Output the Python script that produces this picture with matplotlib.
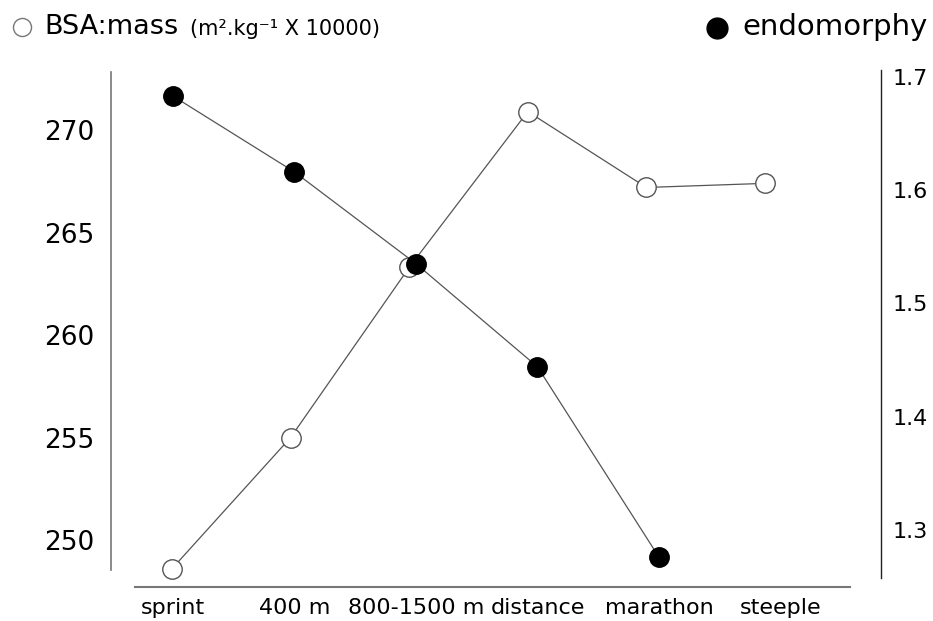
import matplotlib
matplotlib.use("Agg")
import matplotlib.pyplot as plt
from matplotlib.lines import Line2D

categories = ["sprint", "400 m", "800-1500 m", "distance", "marathon", "steeple"]
bsa_mass = [248.6, 255.0, 263.3, 270.9, 267.2, 267.4]
endomorphy = [1.683, 1.616, 1.535, 1.444, 1.276]
left_ticks = [250, 255, 260, 265, 270]
right_ticks = [1.3, 1.4, 1.5, 1.6, 1.7]

W, H = 933, 621
fig = plt.figure(figsize=(W / 100, H / 100), dpi=100)
plt.rcParams['font.family'] = ['DejaVu Sans']

# axes box in pixels: x 111..881, y 70..587 (from top)
rect = [111 / W, 1 - 587 / H, (881 - 111) / W, (587 - 70) / H]
ax = fig.add_axes(rect)
ax2 = fig.add_axes(rect)
ax2.patch.set_alpha(0)

line_col = "#555555"

x1 = list(range(len(categories)))
ax.plot(x1, bsa_mass, color=line_col, lw=0.9, zorder=2)
ax.plot(x1, bsa_mass, 'o', ms=14, mfc='white', mec=line_col, mew=1.0, ls='none', zorder=3)
ax.set_xlim(-0.514, 5.978)
ax.set_ylim(247.71, 272.93)

x2 = list(range(len(endomorphy)))
ax2.plot(x2, endomorphy, color=line_col, lw=0.9, zorder=2)
ax2.plot(x2, endomorphy, 'o', ms=14, mfc='black', mec='black', ls='none', zorder=3)
ax2.set_xlim(-0.510, 5.827)
ax2.set_ylim(1.2497, 1.706)

for a in (ax, ax2):
    for s in a.spines.values():
        s.set_visible(False)

# left axis
ax.spines['left'].set_visible(True)
ax.spines['left'].set_color('#777777')
ax.spines['left'].set_linewidth(1.2)
ax.spines['left'].set_bounds(248.54, 272.83)
ax.set_yticks(left_ticks)
ax.tick_params(axis='y', length=0, pad=12, labelsize=19)

# bottom line
ax.spines['bottom'].set_visible(True)
ax.spines['bottom'].set_color('#777777')
ax.spines['bottom'].set_linewidth(1.5)
ax.spines['bottom'].set_bounds(-0.312, 5.717)
ax.set_xticks([])

# category labels along the bottom
ax2.set_xticks(list(range(len(categories))))
ax2.set_xticklabels(categories)
ax2.tick_params(axis='x', length=0, pad=8, labelsize=16)

# right axis
ax2.spines['right'].set_visible(True)
ax2.spines['right'].set_color('#222222')
ax2.spines['right'].set_linewidth(1.0)
ax2.spines['right'].set_bounds(1.2576, 1.706)
ax2.yaxis.tick_right()
ax2.set_yticks(right_ticks)
ax2.set_yticklabels([f"{v:.1f}" for v in right_ticks])
ax2.tick_params(axis='y', length=0, pad=8, labelsize=16)

# legend-like header
fig.add_artist(Line2D([22 / W], [1 - 27 / H], marker='o', ms=13, mfc='white',
                      mec='#777777', mew=1.0, transform=fig.transFigure))
fig.add_artist(Line2D([717 / W], [1 - 28 / H], marker='o', ms=15, mfc='black',
                      mec='black', transform=fig.transFigure))
fig.text(44 / W, 1 - 27 / H, "BSA:mass", fontsize=19.5, ha='left', va='center')
fig.text(190 / W, 1 - 29 / H, "(m².kg⁻¹ X 10000)", fontsize=15, ha='left', va='center')
fig.text(928 / W, 1 - 27 / H, "endomorphy", fontsize=21, ha='right', va='center')

fig.savefig("out.png", dpi=100)
